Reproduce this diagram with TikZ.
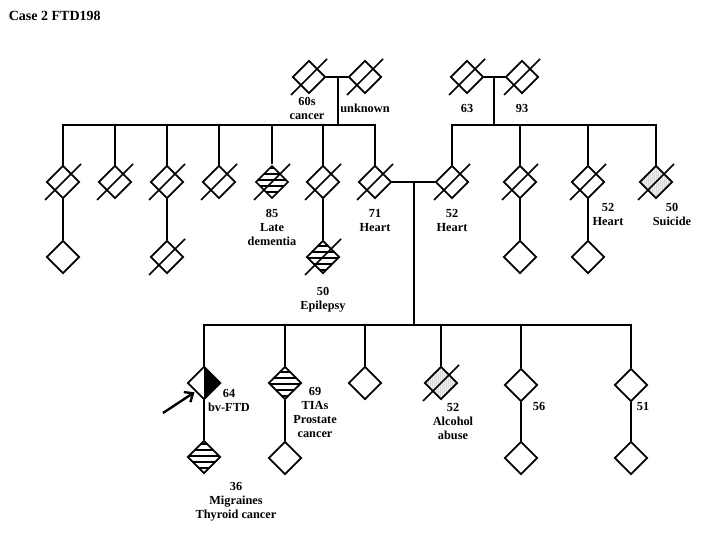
\documentclass[tikz,border=0pt]{standalone}
\usepackage{fontspec}
\setmainfont{Liberation Serif}
\usetikzlibrary{shapes.geometric, patterns.meta, arrows.meta}

\newcommand{\deceased}[1]{\draw ([shift={(-18,18)}]#1.center) -- ([shift={(18,-18)}]#1.center);}

\begin{document}
\begin{tikzpicture}[x=1pt, y=-1pt, line width=1.7pt,
    person/.style={draw, diamond, inner sep=0pt, minimum size=33pt},
    striped/.style={pattern={Lines[distance=6pt, line width=2.4pt, angle=0]}},
    stippled/.style={pattern={Dots[distance=2pt, radius=0.5pt]}, pattern color=black!75},
    lbl/.style={font=\fontsize{12.3}{14}\selectfont\bfseries, align=center, inner sep=0pt}]
    \useasboundingbox (0,0) rectangle (703,540);

    \node[lbl, anchor=west, font=\fontsize{14}{16}\selectfont\bfseries] (title) at (8,16) {Case 2 FTD198};

    % generation I
    \node[person] (i1) at (309,77) {};
    \node[person] (i2) at (365,77) {};
    \node[person] (i3) at (467,77) {};
    \node[person] (i4) at (522,77) {};

    % generation II
    \node[person] (ii1) at (63,182) {};
    \node[person] (ii2) at (115,182) {};
    \node[person] (ii3) at (167,182) {};
    \node[person] (ii4) at (219,182) {};
    \node[person, striped] (ii5) at (272,182) {};
    \node[person] (ii6) at (323,182) {};
    \node[person] (ii7) at (375,182) {};
    \node[person] (ii8) at (452,182) {};
    \node[person] (ii9) at (520,182) {};
    \node[person] (ii10) at (588,182) {};
    \node[person, stippled] (ii11) at (656,182) {};

    % generation III
    \node[person] (iii1) at (63,257) {};
    \node[person] (iii2) at (167,257) {};
    \node[person, striped] (iii3) at (323,257) {};
    \node[person] (iii4) at (520,257) {};
    \node[person] (iii5) at (588,257) {};
    \node[person] (iii6) at (204,383) {};
    \node[person, striped] (iii7) at (285,383) {};
    \node[person] (iii8) at (365,383) {};
    \node[person, stippled] (iii9) at (441,383) {};
    \node[person] (iii10) at (521,385) {};
    \node[person] (iii11) at (631,385) {};
    \fill (iii6.north) -- (iii6.east) -- (iii6.south) -- cycle;

    % generation IV
    \node[person, striped] (iv1) at (204,457) {};
    \node[person] (iv2) at (285,458) {};
    \node[person] (iv3) at (521,458) {};
    \node[person] (iv4) at (631,458) {};

    \foreach \n in {i1,i2,i3,i4,ii1,ii2,ii3,ii4,ii5,ii6,ii7,ii8,ii9,ii10,ii11,iii2,iii3,iii9}
        {\deceased{\n}}

    % couples and sibships
    \coordinate (m1) at (338,77);
    \coordinate (s1) at (338,125);
    \coordinate (m2) at (494,77);
    \coordinate (s2) at (494,125);
    \coordinate (m3) at (414,182);
    \coordinate (s3) at (414,325);
    \draw (i1) -- (i2);
    \draw (i3) -- (i4);
    \draw (ii7) -- (ii8);
    \draw (m1) -- (s1);
    \draw (m2) -- (s2);
    \draw (m3) -- (s3);
    \draw (ii1.north) |- (s1) -| (ii7.north);
    \foreach \c in {ii2,ii3,ii4,ii5,ii6}
        \draw (\c.north) -- (\c.north |- s1);
    \draw (ii8.north) |- (s2) -| (ii11.north);
    \foreach \c in {ii9,ii10}
        \draw (\c.north) -- (\c.north |- s2);
    \draw (iii6.north) |- (s3) -| (iii11.north);
    \foreach \c in {iii7,iii8,iii9,iii10}
        \draw (\c.north) -- (\c.north |- s3);

    % single children
    \draw (ii1) -- (iii1);
    \draw (ii3) -- (iii2);
    \draw (ii6) -- (iii3);
    \draw (ii9) -- (iii4);
    \draw (ii10) -- (iii5);
    \draw (iii6) -- (iv1);
    \draw (iii7) -- (iv2);
    \draw (iii10) -- (iv3);
    \draw (iii11) -- (iv4);

    % proband
    \coordinate (arr) at (163,413);
    \draw[line width=2.4pt, -{Straight Barb[length=7pt, width=12pt, line width=2.4pt]}, shorten >=1pt] (arr) -- (iii6.south west);

    % labels
    \node[lbl] (i1lbl) at (307,108) {60s\\cancer};
    \node[lbl] (i2lbl) at (365,108) {unknown};
    \node[lbl] (i3lbl) at (467,108) {63};
    \node[lbl] (i4lbl) at (522,108) {93};
    \node[lbl] (ii5lbl) at (272,227) {85\\Late\\dementia};
    \node[lbl] (ii7lbl) at (375,220) {71\\Heart};
    \node[lbl] (ii8lbl) at (452,220) {52\\Heart};
    \node[lbl] (ii10lbl) at (608,214) {52\\Heart};
    \node[lbl] (ii11lbl) at (672,214) {50\\Suicide};
    \node[lbl] (iii3lbl) at (323,300) {50\\Epilepsy};
    \node[lbl] (iii6lbl) at (229,400) {64\\bv-FTD};
    \node[lbl] (iii7lbl) at (315,412) {69\\TIAs\\Prostate\\cancer};
    \node[lbl] (iii9lbl) at (453,421) {52\\Alcohol\\abuse};
    \node[lbl] (iii10lbl) at (539,406) {56};
    \node[lbl] (iii11lbl) at (643,406) {51};
    \node[lbl] (iv1lbl) at (236,502) {36\\Migraines\\Thyroid cancer};
\end{tikzpicture}
\end{document}
